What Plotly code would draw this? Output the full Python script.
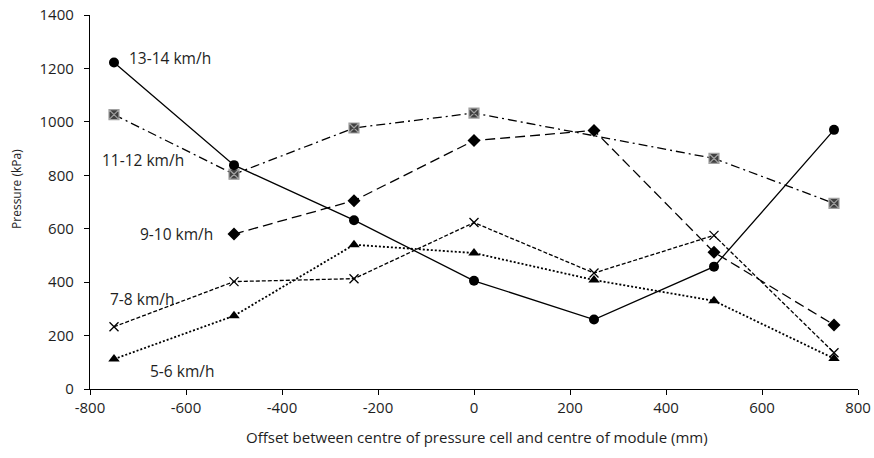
import plotly.graph_objects as go

offsets = [-750, -500, -250, 0, 250, 500, 750]

speed_13_14 = [1222, 838, 632, 405, 260, 458, 970]
speed_11_12 = [1027, 804, 977, 1033, None, 863, 695]
speed_9_10 = [None, 580, 705, 930, 968, 512, 240]
speed_7_8 = [233, 402, 413, 623, 434, 575, 136]
speed_5_6 = [112, 274, 540, 509, 408, 330, 114]

labels = ["13-14 km/h", "11-12 km/h", "9-10 km/h", "7-8 km/h", "5-6 km/h"]
label_x = [-722, -779, -700, -762, -679]
label_y = [1240, 858, 580, 338, 68]

x_ticks = [-800, -600, -400, -200, 0, 200, 400, 600, 800]
y_ticks = [0, 200, 400, 600, 800, 1000, 1200, 1400]

x_title = "Offset between centre of pressure cell and centre of module (mm)"
y_title = "Pressure (kPa)"

FONT = "Open Sans"
TXT = "#1e1e1e"

fig = go.Figure()

series = [
    (speed_5_6, labels[4], dict(symbol="triangle-up", size=10, color="black"), dict(dash="2px,2px", width=1.8)),
    (speed_7_8, labels[3], dict(symbol="x-thin-open", size=9, color="black", line=dict(width=1.3, color="black")), dict(dash="4px,2px", width=1.3)),
    (speed_9_10, labels[2], dict(symbol="diamond", size=10, color="black"), dict(dash="10px,5px", width=1.3)),
    (speed_11_12, labels[1], dict(symbol="square-x", size=10, color="#404040", line=dict(width=1.2, color="#a0a0a0")), dict(dash="9px,4px,2px,4px", width=1.3)),
    (speed_13_14, labels[0], dict(symbol="circle", size=10, color="black"), dict(dash="solid", width=1.3)),
]

for ys, name, marker, line in series:
    fig.add_trace(go.Scatter(
        x=offsets, y=ys, name=name, mode="lines+markers",
        marker=marker, line=dict(color="black", **line),
        connectgaps=True, showlegend=False,
    ))

for t, lx, ly in zip(labels, label_x, label_y):
    fig.add_annotation(x=lx, y=ly, text=t, showarrow=False, xanchor="left",
                       yanchor="middle", font=dict(family=FONT, size=15.5, color=TXT))

fig.add_annotation(x=0.504, y=-0.128, xref="paper", yref="paper", text=x_title,
                   showarrow=False, xanchor="center", yanchor="middle",
                   font=dict(family=FONT, size=15, color=TXT))
fig.add_annotation(x=-0.095, y=0.535, xref="paper", yref="paper", text=y_title,
                   showarrow=False, xanchor="center", yanchor="middle", textangle=-90,
                   font=dict(family=FONT, size=12, color=TXT))

axis_common = dict(
    showgrid=False, zeroline=False, showline=True, linecolor="black", linewidth=1.3,
    ticks="outside", ticklen=5, tickcolor="black", tickwidth=1.3,
    tickfont=dict(family=FONT, size=15, color=TXT), automargin=False,
)

fig.update_xaxes(range=[-800, 800], tickvals=x_ticks, ticktext=[str(v) for v in x_ticks],
                 **axis_common)
fig.update_yaxes(range=[0, 1400], tickvals=y_ticks, ticktext=[str(v) for v in y_ticks],
                 ticklabelstandoff=7, **axis_common)

fig.update_layout(
    width=874, height=458,
    margin=dict(l=90, r=16, t=15, b=69, autoexpand=False),
    plot_bgcolor="white", paper_bgcolor="white",
    font=dict(family=FONT),
)

fig.write_html("out.html", config={"displayModeBar": False},
               post_script="document.body.style.margin='0';document.body.style.padding='0';")
